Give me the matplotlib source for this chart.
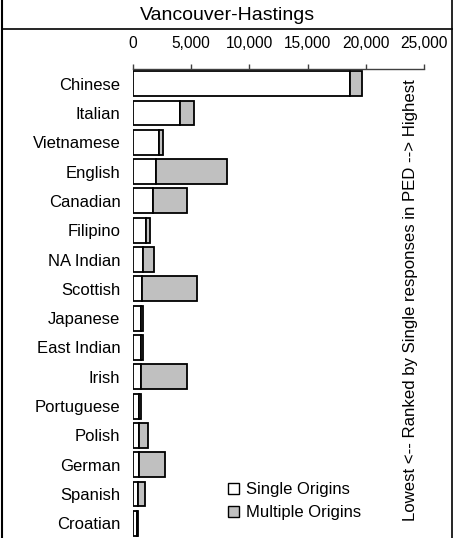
import matplotlib
matplotlib.use("Agg")
import matplotlib.pyplot as plt
import numpy as np
from matplotlib.lines import Line2D
from matplotlib.patches import Patch
from matplotlib.ticker import FuncFormatter

plt.rcParams['font.family'] = ['Liberation Sans', 'DejaVu Sans']

origins = ['Chinese', 'Italian', 'Vietnamese', 'English', 'Canadian', 'Filipino',
           'NA Indian', 'Scottish', 'Japanese', 'East Indian', 'Irish', 'Portuguese',
           'Polish', 'German', 'Spanish', 'Croatian']
single = [18650, 4070, 2200, 1950, 1750, 1090, 830, 750, 710, 700, 660, 540,
          520, 520, 460, 370]
total = [19700, 5200, 2600, 8050, 4660, 1460, 1830, 5470, 860, 860, 4660, 710,
         1310, 2780, 1030, 460]
multiple = [t - s for t, s in zip(total, single)]

fig = plt.figure(figsize=(4.54, 5.38), dpi=100)
ax = fig.add_axes([133 / 454, 0.0, 291 / 454, 1 - 69 / 538])

y = np.arange(len(origins))
ax.barh(y, single, height=0.85, color='white', edgecolor='black', linewidth=1.3)
ax.barh(y, multiple, left=single, height=0.85, color='#c0c0c0',
        edgecolor='black', linewidth=1.3)

ax.set_xlim(0, 25000)
ax.set_ylim(len(origins) - 0.5, -0.5)
ax.set_yticks(y)
ax.set_yticklabels(origins, fontsize=12)
ax.set_xticks(np.arange(0, 25001, 5000))
ax.xaxis.set_major_formatter(FuncFormatter(lambda v, p: f"{int(v):,}"))
ax.xaxis.tick_top()
ax.tick_params(axis='x', direction='out', length=3.6, width=1, color='#404040',
               labelsize=11.2, pad=9)
ax.tick_params(axis='y', length=0, pad=9)
for s in ['left', 'right', 'bottom']:
    ax.spines[s].set_visible(False)
ax.spines['top'].set_color('#404040')
ax.spines['top'].set_linewidth(1)

fig.text(410 / 454, 1 - 300 / 538,
         'Lowest <-- Ranked by Single responses in PED --> Highest',
         rotation=90, ha='center', va='center', fontsize=12.1)

handles = [Patch(facecolor='white', edgecolor='black', label='Single Origins'),
           Patch(facecolor='#c0c0c0', edgecolor='black', label='Multiple Origins')]
fig.legend(handles=handles, loc='upper left', bbox_to_anchor=(228 / 454, 1 - 482 / 538),
           frameon=False, fontsize=12, handlelength=0.65, handleheight=0.65,
           handletextpad=0.4, labelspacing=0.5, borderaxespad=0, borderpad=0)

# title box
fig.text(227 / 454, 1 - 15 / 538, 'Vancouver-Hastings', ha='center', va='center',
         fontsize=14)
fig.add_artist(Line2D([2 / 454, 452 / 454], [1 - 29 / 538, 1 - 29 / 538],
                      transform=fig.transFigure, color='black', linewidth=1.2))
fig.add_artist(Line2D([2 / 454, 2 / 454], [0, 1], transform=fig.transFigure,
                      color='black', linewidth=1.5))
fig.add_artist(Line2D([452 / 454, 452 / 454], [0, 1], transform=fig.transFigure,
                      color='black', linewidth=1.2))

fig.savefig('out.png', dpi=100)
